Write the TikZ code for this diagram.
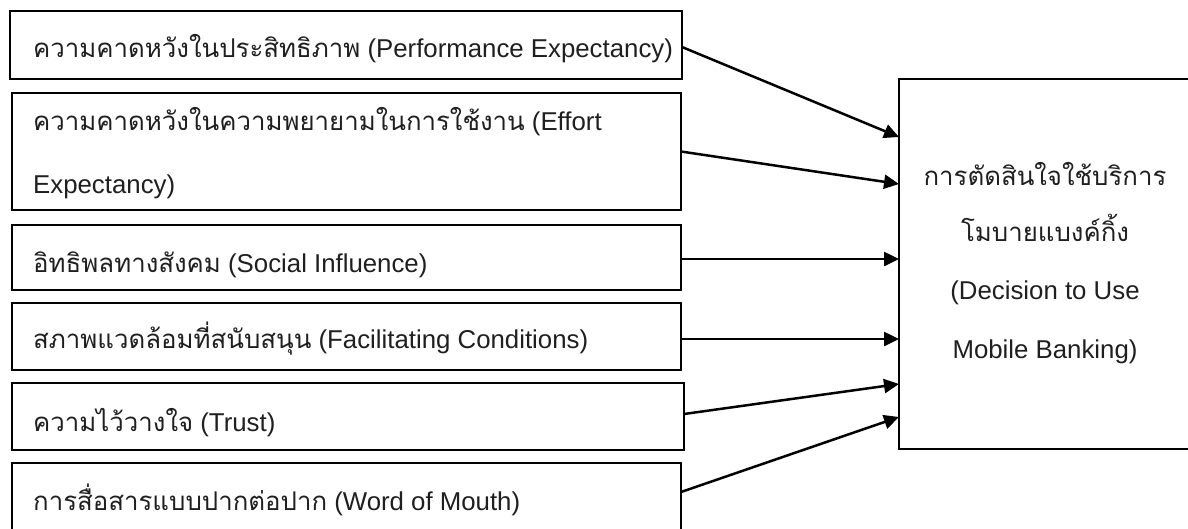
\documentclass[tikz,border=0pt]{standalone}
\usepackage{fontspec}
\setmainfont{Liberation Sans}
\newfontfamily\thaifont[Script=Thai]{Loma}
\newcommand{\thx}[1]{{\thaifont #1}}
\usetikzlibrary{arrows.meta,calc}
\begin{document}
\begin{tikzpicture}[x=1pt,y=-1pt,
  box/.style={draw,line width=2.5pt,rectangle,anchor=north west,outer sep=0pt,inner sep=0pt},
  txt/.style={anchor=base west,inner sep=0pt,text=black!88,font=\fontsize{25.8}{30}\selectfont},
  ctxt/.style={anchor=base,inner sep=0pt,text=black!88,font=\fontsize{25.8}{30}\selectfont},
  arr/.style={line width=2.5pt,-{Triangle[length=15pt,width=14pt]}}]
\clip (0,0) rectangle (1188,528);
\node[box,minimum width=672,minimum height=68] (b1) at (10,11) {};
\node[box,minimum width=669,minimum height=117] (b2) at (12,93) {};
\node[box,minimum width=669,minimum height=65] (b3) at (12,225) {};
\node[box,minimum width=669,minimum height=67] (b4) at (12,303) {};
\node[box,minimum width=672,minimum height=67] (b5) at (12,383) {};
\node[box,minimum width=669,minimum height=68] (b6) at (12,463) {};
\node[box,minimum width=292,minimum height=370] (rb) at (899,79) {};
\node[txt] (t1) at (33,57) {\thx{ความคาดหวังในประสิทธิภาพ} (Performance Expectancy)};
\node[txt] (t2a) at (33,130) {\thx{ความคาดหวังในความพยายามในการใช้งาน} (Effort};
\node[txt] (t2b) at (33,193) {Expectancy)};
\node[txt] (t3) at (33,272) {\thx{อิทธิพลทางสังคม} (Social Influence)};
\node[txt] (t4) at (33,348) {\thx{สภาพแวดล้อมที่สนับสนุน} (Facilitating Conditions)};
\node[txt] (t5) at (33,431) {\thx{ความไว้วางใจ} (Trust)};
\node[txt] (t6) at (33,510) {\thx{การสื่อสารแบบปากต่อปาก} (Word of Mouth)};
\node[ctxt] (r1) at (1045,185) {\thx{การตัดสินใจใช้บริการ}};
\node[ctxt] (r2) at (1045,241) {\thx{โมบายแบงค์กิ้ง}};
\node[ctxt] (r3) at (1045,299) {(Decision to Use};
\node[ctxt] (r4) at (1045,358) {Mobile Banking)};
\draw[arr] ($(b1.east)+(0,2)$) -- ($(rb.north west)+(0,58)$);
\draw[arr] (b2.east) -- ($(rb.north west)+(0,105)$);
\draw[arr] ($(b3.east)+(0,1.5)$) -- ($(rb.north west)+(0,180)$);
\draw[arr] ($(b4.east)+(0,2.5)$) -- ($(rb.north west)+(0,260)$);
\draw[arr] ($(b5.east)+(0,-2.5)$) -- ($(rb.north west)+(0,305)$);
\draw[arr] ($(b6.east)+(0,-5)$) -- ($(rb.north west)+(0,338)$);
\end{tikzpicture}
\end{document}
